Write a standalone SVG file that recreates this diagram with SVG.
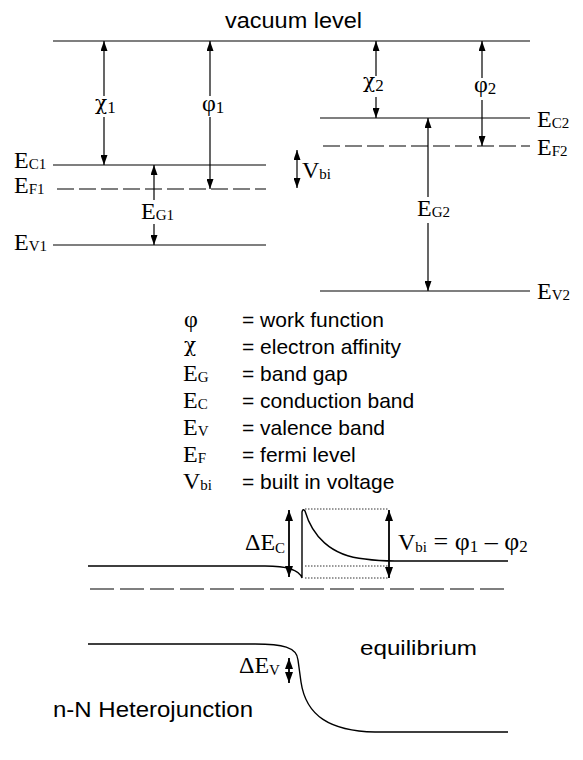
<svg xmlns="http://www.w3.org/2000/svg" width="583" height="760" viewBox="0 0 583 760">
<defs>
<style>
.ln{stroke:#000;stroke-width:1.2;fill:none}
.dash{stroke:#000;stroke-width:1.2;fill:none;stroke-dasharray:17 5}
.dash2{stroke:#000;stroke-width:1.2;fill:none;stroke-dasharray:24 6}
.dot{stroke:#333;stroke-width:1;fill:none;stroke-dasharray:1.5 1.5}
.ar{stroke:#000;stroke-width:1.2;fill:none}
.ar2{stroke:#000;stroke-width:1.8;fill:none}
.crv{stroke:#000;stroke-width:1.4;fill:none}
.sym{font-family:"Liberation Serif","Times New Roman",serif;font-size:24px;fill:#000}
.chi{font-family:"DejaVu Serif","Liberation Serif",serif;font-size:20px}
.sub{font-size:15px}
.sans{font-family:"Liberation Sans",Arial,sans-serif;fill:#000}
</style>
<marker id="ah" viewBox="0 0 10 7" refX="10" refY="3.5" markerUnits="userSpaceOnUse" markerWidth="10" markerHeight="7" orient="auto-start-reverse"><path d="M0,0 L10,3.5 L0,7 z" fill="#000"/></marker>
<marker id="ah2" viewBox="0 0 11 8" refX="11" refY="4" markerUnits="userSpaceOnUse" markerWidth="11" markerHeight="8" orient="auto-start-reverse"><path d="M0,0 L11,4 L0,8 z" fill="#000"/></marker>
</defs>

<g id="vacuum-level">
<line class="ln" x1="53" y1="41" x2="530" y2="41"/>
<text class="sans" x="225" y="28" font-size="22" textLength="137" lengthAdjust="spacingAndGlyphs">vacuum level</text>
</g>

<g id="material1">
<line class="ln" x1="53" y1="165" x2="266" y2="165"/>
<line class="dash" x1="57" y1="189" x2="266" y2="189"/>
<line class="ln" x1="53" y1="245" x2="266" y2="245"/>
<text class="sym" x="14" y="168">E<tspan class="sub" dy="1">C1</tspan></text>
<text class="sym" x="14" y="193">E<tspan class="sub" dy="1">F1</tspan></text>
<text class="sym" x="14" y="250">E<tspan class="sub" dy="1">V1</tspan></text>
</g>

<g id="material2">
<line class="ln" x1="320" y1="118" x2="530" y2="118"/>
<line class="dash" x1="323" y1="146" x2="530" y2="146"/>
<line class="ln" x1="320" y1="291" x2="530" y2="291"/>
<text class="sym" x="537" y="127">E<tspan class="sub" dy="1">C2</tspan></text>
<text class="sym" x="537" y="155">E<tspan class="sub" dy="1">F2</tspan></text>
<text class="sym" x="537" y="299">E<tspan class="sub" dy="1">V2</tspan></text>
</g>

<g id="connectors">
<line class="ar" x1="104" y1="96" x2="104" y2="41" marker-end="url(#ah)"/>
<line class="ar" x1="104" y1="117" x2="104" y2="165" marker-end="url(#ah)"/>
<line class="ar" x1="210" y1="96" x2="210" y2="41" marker-end="url(#ah)"/>
<line class="ar" x1="210" y1="117" x2="210" y2="189" marker-end="url(#ah)"/>
<line class="ar" x1="154" y1="200" x2="154" y2="165" marker-end="url(#ah)"/>
<line class="ar" x1="154" y1="224" x2="154" y2="245" marker-end="url(#ah)"/>
<line class="ar" x1="297" y1="150" x2="297" y2="188" marker-start="url(#ah)" marker-end="url(#ah)"/>
<line class="ar" x1="376" y1="76" x2="376" y2="41" marker-end="url(#ah)"/>
<line class="ar" x1="376" y1="97" x2="376" y2="118" marker-end="url(#ah)"/>
<line class="ar" x1="482" y1="78" x2="482" y2="41" marker-end="url(#ah)"/>
<line class="ar" x1="482" y1="100" x2="482" y2="146" marker-end="url(#ah)"/>
<line class="ar" x1="428" y1="197" x2="428" y2="118" marker-end="url(#ah)"/>
<line class="ar" x1="428" y1="223" x2="428" y2="291" marker-end="url(#ah)"/>
<line class="ar2" x1="289" y1="510" x2="289" y2="577" marker-start="url(#ah2)" marker-end="url(#ah2)"/>
<line class="ar2" x1="389" y1="510" x2="389" y2="578" marker-start="url(#ah2)" marker-end="url(#ah2)"/>
<line class="ar2" x1="289" y1="658" x2="289" y2="683" marker-start="url(#ah2)" marker-end="url(#ah2)"/>
</g>

<g id="labels-top">
<text class="sym" x="95" y="110"><tspan class="chi">χ</tspan><tspan font-size="17" dy="3">1</tspan></text>
<text class="sym" x="202" y="111">φ<tspan dy="2" font-size="17">1</tspan></text>
<text class="sym" x="141" y="219">E<tspan class="sub" dy="1">G1</tspan></text>
<text class="sym" x="302" y="178">V<tspan class="sub" dy="1">bi</tspan></text>
<text class="sym" x="363" y="88"><tspan class="chi">χ</tspan><tspan font-size="17" dy="3">2</tspan></text>
<text class="sym" x="474" y="92">φ<tspan dy="2" font-size="17">2</tspan></text>
<text class="sym" x="417" y="216">E<tspan class="sub" dy="1">G2</tspan></text>
</g>

<g id="legend">
<text class="sym" x="184" y="327">φ</text>
<text class="sym" x="184" y="352"><tspan class="chi">χ</tspan></text>
<text class="sym" x="183" y="381">E<tspan class="sub" dy="1">G</tspan></text>
<text class="sym" x="183" y="408">E<tspan class="sub" dy="1">C</tspan></text>
<text class="sym" x="183" y="435">E<tspan class="sub" dy="1">V</tspan></text>
<text class="sym" x="183" y="462">E<tspan class="sub" dy="1">F</tspan></text>
<text class="sym" x="183" y="489">V<tspan class="sub" dy="1">bi</tspan></text>
<g class="sans" font-size="21">
<text x="242" y="327">= work function</text>
<text x="242" y="354">= electron affinity</text>
<text x="242" y="381">= band gap</text>
<text x="242" y="408">= conduction band</text>
<text x="242" y="435">= valence band</text>
<text x="242" y="462">= fermi level</text>
<text x="242" y="489">= built in voltage</text>
</g>
</g>

<g id="heterojunction">
<path class="crv" d="M88 566 L265 566 C285 566, 299 569, 302 578 L302 512 Q303 508, 305 511 C312 535, 330 556, 365 559 C375 560.5, 385 561, 395 561 L508 561"/>
<line class="dot" x1="305" y1="509" x2="389" y2="509"/>
<line class="dot" x1="305" y1="566" x2="389" y2="566"/>
<line class="dot" x1="305" y1="578" x2="389" y2="578"/>
<line class="dash2" x1="90" y1="589" x2="508" y2="589"/>
<path class="crv" d="M88 644 L255 644 C282 644, 297 647, 298 660 L301 682 C306 716, 330 731, 375 732 L508 732"/>
<text class="sym" x="245" y="550" font-size="25">ΔE<tspan class="sub" dy="3" font-size="17">C</tspan></text>
<text class="sym" x="398" y="550">V<tspan class="sub" dy="2" font-size="16">bi</tspan><tspan dy="-2" font-size="26"> = φ</tspan><tspan dy="2" font-size="17">1</tspan><tspan dy="-2" font-size="26"> – φ</tspan><tspan dy="2" font-size="17">2</tspan></text>
<text class="sym" x="239" y="673" font-size="22">ΔE<tspan class="sub" dy="2">V</tspan></text>
<text class="sans" x="360" y="655" font-size="21" textLength="117" lengthAdjust="spacingAndGlyphs">equilibrium</text>
<text class="sans" x="53" y="717" font-size="22" textLength="200" lengthAdjust="spacingAndGlyphs">n-N Heterojunction</text>
</g>
</svg>
